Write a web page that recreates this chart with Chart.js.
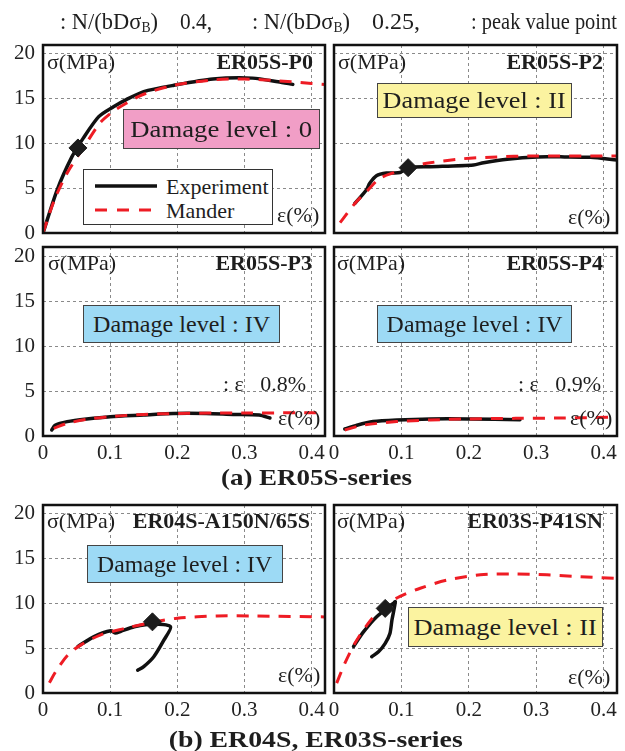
<!DOCTYPE html>
<html><head><meta charset="utf-8">
<script src="https://cdn.jsdelivr.net/npm/chart.js@4.4.1/dist/chart.umd.min.js"></script>
<style>
html,body{margin:0;padding:0;background:#fff}
body{width:625px;height:751px;position:relative;overflow:hidden;font-family:"Liberation Serif","Times New Roman",serif;color:#1e1e1e}
canvas{position:absolute}
.o{position:absolute;white-space:nowrap;line-height:1;font-size:22px;z-index:2}
.b{font-weight:bold}
.fit{display:inline-block;transform-origin:left center}
.box{position:absolute;z-index:2;box-sizing:border-box;border:1px solid #444;display:flex;align-items:center;justify-content:center;font-size:23px;line-height:1;white-space:nowrap}
.box .fit,.ctr .fit{transform-origin:center center}
.pink{background:#f19ec6}.yel{background:#fbf3a0}.blu{background:#9ddaf5}
.leg{position:absolute;z-index:2;box-sizing:border-box;border:1.5px solid #333;background:#fff}
sub{font-size:14px;vertical-align:-3px;line-height:0}
</style></head><body>

<!-- top note -->
<div class="o" style="left:60px;top:10px;font-size:23px"><span class="fit" data-w="98">: N/(bDσ<sub>B</sub>)</span></div>
<div class="o" style="left:180px;top:10px;font-size:23px"><span class="fit" data-w="32">0.4,</span></div>
<div class="o" style="left:252px;top:10px;font-size:23px"><span class="fit" data-w="98">: N/(bDσ<sub>B</sub>)</span></div>
<div class="o" style="left:372px;top:10px;font-size:23px"><span class="fit" data-w="48">0.25,</span></div>
<div class="o" style="left:471px;top:10px;font-size:23px"><span class="fit" data-w="146">: peak value point</span></div>

<canvas id="c0"></canvas><canvas id="c1"></canvas><canvas id="c2"></canvas>
<canvas id="c3"></canvas><canvas id="c4"></canvas><canvas id="c5"></canvas>

<!-- panel P0 -->
<div class="o" style="left:47px;top:51px">σ(MPa)</div>
<div class="o b" style="right:312px;top:51px">ER05S-P0</div>
<div class="box pink" style="left:123px;top:109px;width:197px;height:40px"><span class="fit" data-w="182">Damage level : 0</span></div>
<div class="leg" style="left:83px;top:169px;width:190px;height:56px">
  <svg width="190" height="56" style="position:absolute;left:-1.5px;top:-1.5px">
    <line x1="12" y1="17" x2="74" y2="17" stroke="#111" stroke-width="3.5"/>
    <line x1="12" y1="41" x2="74" y2="41" stroke="rgb(238,28,36)" stroke-width="3" stroke-dasharray="12 10"/>
  </svg>
  <div class="o" style="left:82px;top:6px">Experiment</div>
  <div class="o" style="left:82px;top:30px">Mander</div>
</div>
<div class="o" style="left:277px;top:204px">ε(%)</div>

<!-- panel P2 -->
<div class="o" style="left:338px;top:51px">σ(MPa)</div>
<div class="o b" style="right:22px;top:51px">ER05S-P2</div>
<div class="box yel" style="left:377px;top:83px;width:195px;height:35px"><span class="fit" data-w="183">Damage level : II</span></div>
<div class="o" style="left:568px;top:206px">ε(%)</div>

<!-- panel P3 -->
<div class="o" style="left:48px;top:252px">σ(MPa)</div>
<div class="o b" style="right:313px;top:252px">ER05S-P3</div>
<div class="box blu" style="left:83px;top:305px;width:197px;height:38px"><span class="fit" data-w="177">Damage level : IV</span></div>
<div class="o" style="left:223px;top:373px">: ε&nbsp;&nbsp;&nbsp;0.8%</div>
<div class="o" style="left:278px;top:407px">ε(%)</div>

<!-- panel P4 -->
<div class="o" style="left:337px;top:252px">σ(MPa)</div>
<div class="o b" style="right:22px;top:252px">ER05S-P4</div>
<div class="box blu" style="left:377px;top:305px;width:195px;height:38px"><span class="fit" data-w="176">Damage level : IV</span></div>
<div class="o" style="left:518px;top:373px">: ε&nbsp;&nbsp;&nbsp;0.9%</div>
<div class="o" style="left:570px;top:407px">ε(%)</div>

<div class="o b ctr" style="left:0;width:633px;text-align:center;top:466px;font-size:23px"><span class="fit" data-w="191">(a) ER05S-series</span></div>

<!-- panel A150 -->
<div class="o" style="left:47px;top:510px">σ(MPa)</div>
<div class="o b" style="right:315px;top:510px">ER04S-A150N/65S</div>
<div class="box blu" style="left:87px;top:545px;width:196px;height:38px"><span class="fit" data-w="175">Damage level : IV</span></div>
<div class="o" style="left:278px;top:664px">ε(%)</div>

<!-- panel P41SN -->
<div class="o" style="left:337px;top:510px">σ(MPa)</div>
<div class="o b" style="right:22px;top:510px">ER03S-P41SN</div>
<div class="box yel" style="left:408px;top:607px;width:195px;height:40px"><span class="fit" data-w="183">Damage level : II</span></div>
<div class="o" style="left:568px;top:666px">ε(%)</div>

<div class="o b ctr" style="left:0;width:631px;text-align:center;top:728px;font-size:23px"><span class="fit" data-w="294">(b) ER04S, ER03S-series</span></div>

<script>
// ---- tick labels ----
const xTicks = [0, 0.1, 0.2, 0.3, 0.4];
const yTicks = [0, 5, 10, 15, 20];

// ---- ER05S-P0 ----
const p0ExpX = [0, 0.021, 0.043, 0.06, 0.083, 0.105, 0.124, 0.15, 0.195, 0.253, 0.312, 0.35, 0.372];
const p0ExpY = [0, 4.8, 8.5, 10.6, 13.0, 14.1, 14.9, 15.8, 16.5, 17.2, 17.3, 16.9, 16.6];
const p0ManX = [0, 0.017, 0.036, 0.061, 0.085, 0.105, 0.124, 0.15, 0.195, 0.253, 0.3, 0.35, 0.4, 0.42];
const p0ManY = [0, 3.7, 6.7, 9.6, 12.3, 13.6, 14.5, 15.5, 16.5, 17.1, 17.2, 17.0, 16.7, 16.6];

// ---- ER05S-P2 ----
const p2ExpX = [0.031, 0.048, 0.053, 0.063, 0.078, 0.098, 0.11, 0.143, 0.207, 0.222, 0.257, 0.302, 0.342, 0.381, 0.42];
const p2ExpY = [3.3, 4.8, 5.55, 6.4, 6.7, 6.75, 7.3, 7.4, 7.6, 7.85, 8.25, 8.5, 8.5, 8.45, 8.15];
const p2ManX = [0.009, 0.031, 0.048, 0.068, 0.093, 0.113, 0.143, 0.192, 0.242, 0.292, 0.42];
const p2ManY = [1.15, 3.3, 4.6, 6.1, 6.85, 7.4, 7.85, 8.3, 8.5, 8.6, 8.6];

// ---- ER05S-P3 ----
const p3ExpX = [0.013, 0.018, 0.036, 0.065, 0.1, 0.15, 0.194, 0.243, 0.283, 0.322, 0.338];
const p3ExpY = [0.67, 1.2, 1.6, 1.9, 2.15, 2.33, 2.5, 2.5, 2.4, 2.33, 2.0];
const p3ManX = [0.016, 0.036, 0.065, 0.1, 0.15, 0.2, 0.255, 0.305, 0.42];
const p3ManY = [0.85, 1.4, 1.85, 2.15, 2.4, 2.5, 2.55, 2.55, 2.6];

// ---- ER05S-P4 ----
const p4ExpX = [0.016, 0.034, 0.058, 0.093, 0.143, 0.2, 0.276];
const p4ExpY = [0.78, 1.2, 1.6, 1.78, 1.9, 1.9, 1.8];
const p4ManX = [0.016, 0.043, 0.093, 0.143, 0.2, 0.27, 0.34, 0.42];
const p4ManY = [0.67, 1.2, 1.6, 1.78, 1.9, 1.96, 2.0, 2.1];

// ---- ER04S-A150N/65S ----
const a1ExpX = [0.052, 0.076, 0.101, 0.108, 0.116, 0.136, 0.165, 0.19, 0.18, 0.165, 0.15, 0.141];
const a1ExpY = [5.2, 6.3, 6.95, 6.7, 6.9, 7.4, 7.7, 7.4, 5.9, 4.05, 2.95, 2.55];
const a1ManX = [0.0095, 0.019, 0.037, 0.056, 0.086, 0.121, 0.16, 0.2, 0.259, 0.315, 0.42];
const a1ManY = [1.15, 2.4, 4.25, 5.35, 6.5, 7.2, 7.85, 8.35, 8.6, 8.6, 8.5];

// ---- ER03S-P41SN ----
const snExpX = [0.029, 0.044, 0.063, 0.088, 0.091, 0.086, 0.083, 0.076, 0.066, 0.056];
const snExpY = [5.2, 6.85, 8.5, 10.0, 10.2, 8.15, 6.65, 5.55, 4.6, 4.05];
const snManX = [0.004, 0.016, 0.031, 0.051, 0.073, 0.098, 0.128, 0.167, 0.217, 0.266, 0.316, 0.365, 0.42];
const snManY = [1.1, 3.3, 5.55, 7.8, 9.65, 10.8, 11.7, 12.6, 13.2, 13.3, 13.2, 13.0, 12.8];

// ---- peak value points (null = none) ----
const peakX = [0.052, 0.11, null, null, 0.163, 0.076];
const peakY = [9.5, 7.3, null, null, 7.95, 9.45];

const RED = 'rgb(238,28,36)';
const FONT = '"Liberation Serif", "Times New Roman", serif';

const framePlugin = {
  id: 'frame',
  afterDraw(c) {
    const a = c.chartArea, ctx = c.ctx;
    ctx.save();
    ctx.strokeStyle = '#111';
    ctx.lineWidth = 2.5;
    ctx.strokeRect(a.left, a.top, a.right - a.left, a.bottom - a.top);
    ctx.restore();
  }
};

function pts(xs, ys) { return xs.map((x, i) => ({x: x, y: ys[i]})); }

function panel(idx, col, row, expX, expY, manX, manY) {
  const cv = document.getElementById('c' + idx);
  const left = col === 0 ? 0 : 320;
  const w = col === 0 ? 330 : 305;
  const top = [25, 227, 485][row];
  const h = [215, 245, 245][row];
  const showX = row > 0;
  const showY = col === 0;
  cv.style.left = left + 'px'; cv.style.top = top + 'px';
  cv.width = w; cv.height = h;
  cv.style.width = w + 'px'; cv.style.height = h + 'px';
  const pad = {
    left: col === 0 ? 0 : 14,
    right: col === 0 ? 5 : 8,
    top: 20,
    bottom: row === 0 ? 7 : (row === 1 ? 6 : 7)
  };
  const peak = peakX[idx] === null ? [] : [{x: peakX[idx], y: peakY[idx]}];
  new Chart(cv, {
    type: 'scatter',
    data: {
      datasets: [
        {data: peak, pointStyle: 'rectRot', pointRadius: 9, pointHoverRadius: 9,
         backgroundColor: '#1c1c1c', borderColor: '#1c1c1c', borderWidth: 1, showLine: false},
        {data: pts(manX, manY), showLine: true, borderColor: RED, borderWidth: 3,
         borderDash: [12, 9], pointRadius: 0, fill: false, tension: 0.3, borderCapStyle: 'butt'},
        {data: pts(expX, expY), showLine: true, borderColor: '#111', borderWidth: 3.5,
         pointRadius: 0, fill: false, tension: 0.25, borderJoinStyle: 'round', borderCapStyle: 'round'}
      ]
    },
    options: {
      responsive: false, animation: false, devicePixelRatio: 1,
      layout: {padding: pad, autoPadding: false},
      plugins: {legend: {display: false}, tooltip: {enabled: false}},
      events: [],
      scales: {
        x: {
          type: 'linear', min: 0, max: 0.42,
          afterBuildTicks: s => { s.ticks = xTicks.map(v => ({value: v})); },
          afterFit: s => { s.height = showX ? 30 : 0; s.paddingLeft = 0; s.paddingRight = 0; },
          ticks: {display: showX, autoSkip: false, maxRotation: 0, minRotation: 0, padding: 5,
                  color: '#222', font: {family: FONT, size: 21},
                  callback: v => v === 0 ? '0' : v.toFixed(1)},
          grid: {color: '#8a8a8a', lineWidth: 1, drawTicks: false},
          border: {display: false, dash: [3, 3]}
        },
        y: {
          type: 'linear', min: 0, max: 21,
          afterBuildTicks: s => { s.ticks = yTicks.map(v => ({value: v})); },
          afterFit: s => { s.width = showY ? 43 : 0; s.paddingTop = 0; s.paddingBottom = 0; },
          ticks: {display: showY, autoSkip: false, padding: 8, color: '#222',
                  font: {family: FONT, size: 21}, callback: v => String(v)},
          grid: {color: '#8a8a8a', lineWidth: 1, drawTicks: false},
          border: {display: false, dash: [3, 3]}
        }
      }
    },
    plugins: [framePlugin]
  });
}

panel(0, 0, 0, p0ExpX, p0ExpY, p0ManX, p0ManY);
panel(1, 1, 0, p2ExpX, p2ExpY, p2ManX, p2ManY);
panel(2, 0, 1, p3ExpX, p3ExpY, p3ManX, p3ManY);
panel(3, 1, 1, p4ExpX, p4ExpY, p4ManX, p4ManY);
panel(4, 0, 2, a1ExpX, a1ExpY, a1ManX, a1ManY);
panel(5, 1, 2, snExpX, snExpY, snManX, snManY);

// horizontal fit of captions to the measured widths
document.querySelectorAll('.fit').forEach(el => {
  const target = parseFloat(el.dataset.w);
  const actual = el.getBoundingClientRect().width;
  if (actual > 0) el.style.transform = 'scaleX(' + (target / actual).toFixed(3) + ')';
});
</script>
</body></html>
